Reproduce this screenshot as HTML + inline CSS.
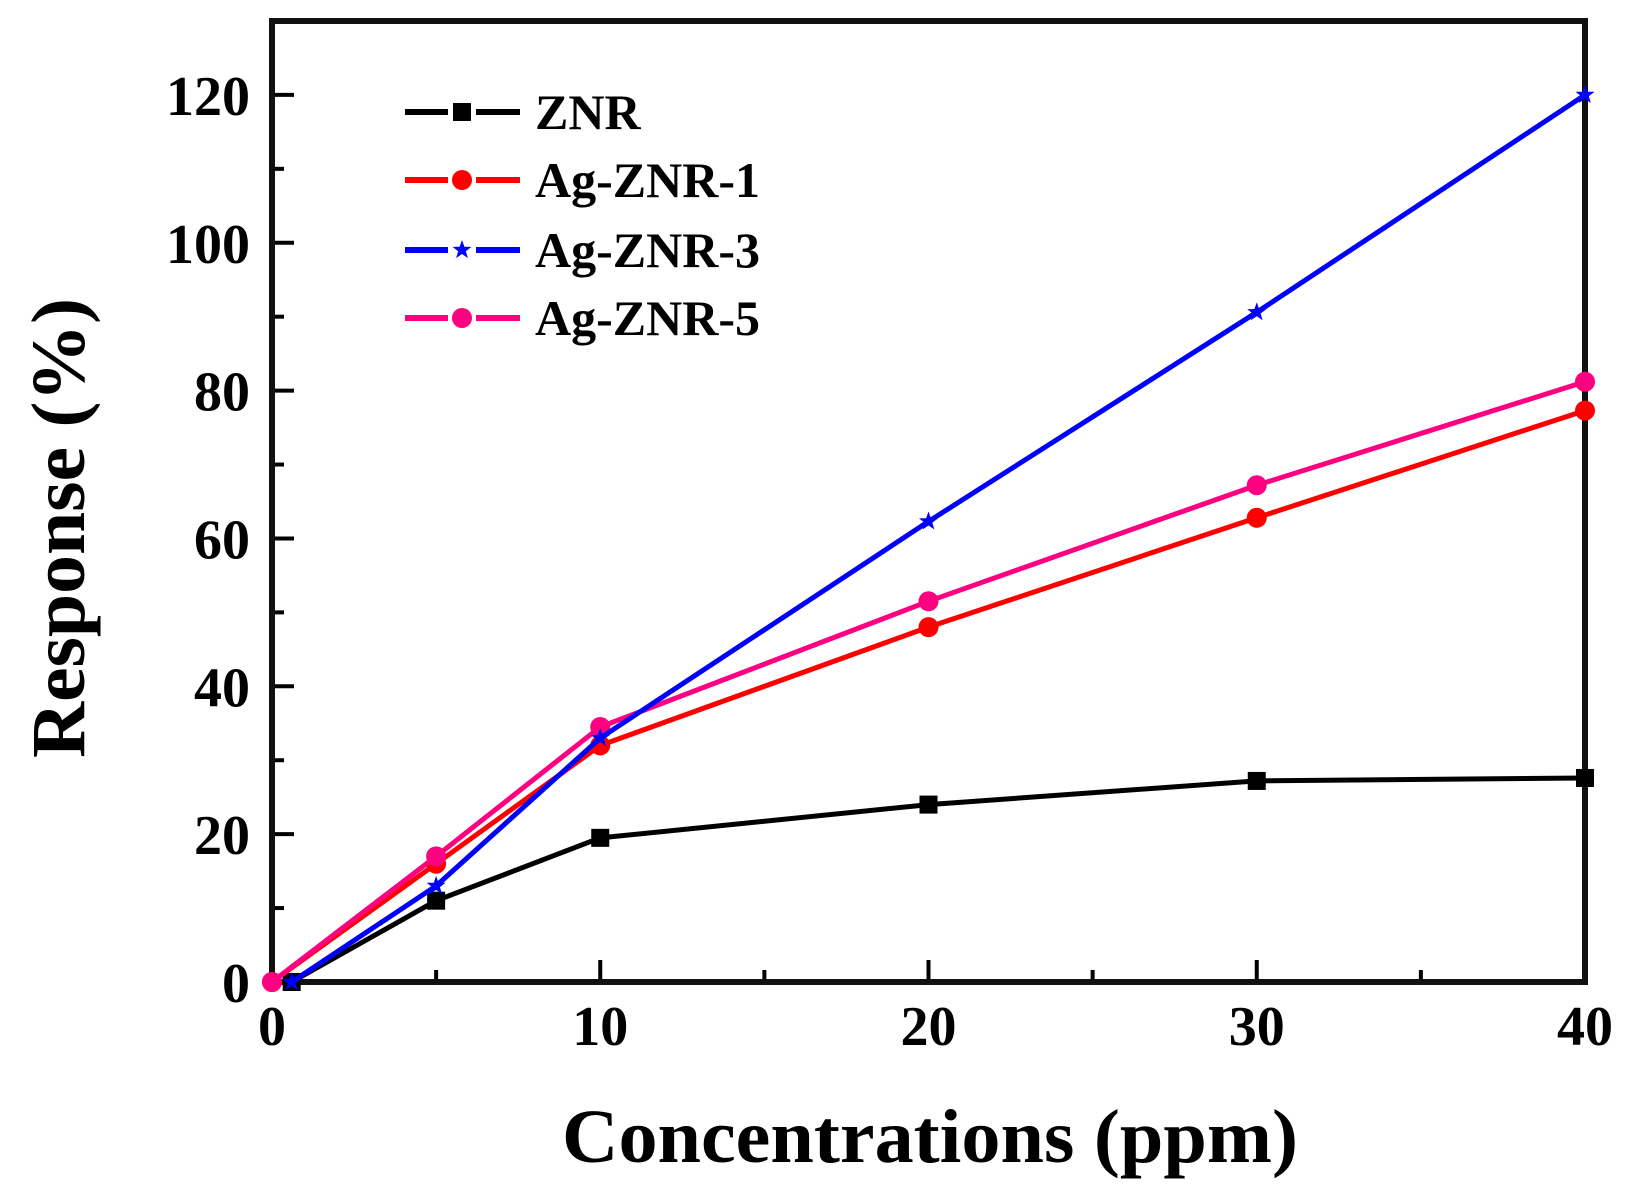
<!DOCTYPE html>
<html><head><meta charset="utf-8"><style>html,body{margin:0;padding:0;background:#fff}svg{display:block}</style></head>
<body>
<svg id="chart" width="1629" height="1195" viewBox="0 0 1629 1195" xmlns="http://www.w3.org/2000/svg" font-family="Liberation Serif, serif" font-weight="bold"></svg>
<script>
const xTicks = [0, 10, 20, 30, 40];
const yTicks = [0, 20, 40, 60, 80, 100, 120];
const seriesNames = ["ZNR", "Ag-ZNR-1", "Ag-ZNR-3", "Ag-ZNR-5"];
const seriesColors = ["#000000", "#ff0000", "#0000ff", "#ff0080"];
const znrX = [0.6, 5, 10, 20, 30, 40];
const znrY = [0, 11, 19.5, 24, 27.2, 27.6];
const ag1X = [0, 5, 10, 20, 30, 40];
const ag1Y = [0, 16, 32, 48, 62.8, 77.3];
const ag3X = [0.6, 5, 10, 20, 30, 40];
const ag3Y = [0, 13, 33, 62.3, 90.6, 120];
const ag5X = [0, 5, 10, 20, 30, 40];
const ag5Y = [0, 17, 34.5, 51.5, 67.2, 81.2];

const svg = document.getElementById('chart');
const NS = 'http://www.w3.org/2000/svg';
const L = 272, R = 1585, T = 21, B = 982;
const xMin = 0, xMax = 40, yMin = 0, yMax = 130;
const sx = v => L + (v - xMin) / (xMax - xMin) * (R - L);
const sy = v => B - (v - yMin) / (yMax - yMin) * (B - T);
function mk(tag, attrs, parent) {
  const e = document.createElementNS(NS, tag);
  for (const k in attrs) e.setAttribute(k, attrs[k]);
  (parent || svg).appendChild(e);
  return e;
}
const tg = mk('g', {});


for (let v = 0; v <= 40; v += 5) {
  const major = v % 10 === 0;
  mk('line', {x1: sx(v), x2: sx(v), y1: B, y2: B - (major ? 22 : 12), stroke: '#000', 'stroke-width': 4}, tg);
}
for (let v = 0; v <= 120; v += 10) {
  const major = v % 20 === 0;
  mk('line', {x1: L, x2: L + (major ? 22 : 12), y1: sy(v), y2: sy(v), stroke: '#000', 'stroke-width': 4}, tg);
}
xTicks.forEach(v => {
  const t = mk('text', {x: sx(v), y: 1045, 'text-anchor': 'middle', 'font-size': 56});
  
  
  t.textContent = v;
});
yTicks.forEach(v => {
  const t = mk('text', {x: 250, y: sy(v) + 20, 'text-anchor': 'end', 'font-size': 56});
  
  
  t.textContent = v;
});
const fr = mk('rect', {x: L, y: T, width: R - L, height: B - T, fill: 'none', stroke: '#111', 'stroke-width': 6});



function marker(kind, x, y, color, parent) {
  if (kind === 0) return mk('rect', {x: x - 9, y: y - 9, width: 18, height: 18, fill: color}, parent);
  if (kind === 1 || kind === 3) return mk('circle', {cx: x, cy: y, r: 10, fill: color}, parent);
  const p = [];
  for (let i = 0; i < 10; i++) {
    const a = -Math.PI / 2 + i * Math.PI / 5, r = i % 2 ? 4 : 10;
    p.push((x + r * Math.cos(a)).toFixed(1) + ',' + (y + r * Math.sin(a)).toFixed(1));
  }
  return mk('polygon', {points: p.join(' '), fill: color}, parent);
}
const allX = [znrX, ag1X, ag3X, ag5X], allY = [znrY, ag1Y, ag3Y, ag5Y];
const seriesOrder = [0, 1, 3, 2];
seriesOrder.forEach(i => {
  const g = mk('g', {});
  
  
  const pts = allX[i].map((x, j) => sx(x) + ',' + sy(allY[i][j])).join(' ');
  mk('polyline', {points: pts, fill: 'none', stroke: seriesColors[i], 'stroke-width': 5}, g);
  allX[i].forEach((x, j) => {
    const m = marker(i, sx(x), sy(allY[i][j]), seriesColors[i], g);
    
    
  });
});
const legY = [112, 180, 250, 318];
seriesNames.forEach((n, i) => {
  const g = mk('g', {});
  
  
  mk('line', {x1: 405, x2: 448, y1: legY[i], y2: legY[i], stroke: seriesColors[i], 'stroke-width': 6}, g);
  mk('line', {x1: 476, x2: 520, y1: legY[i], y2: legY[i], stroke: seriesColors[i], 'stroke-width': 6}, g);
  marker(i, 462, legY[i], seriesColors[i], g);
  const t = mk('text', {x: 535, y: legY[i] + 17, 'font-size': 50}, g);
  t.textContent = n;
});
const xt = mk('text', {x: 930, y: 1162, 'text-anchor': 'middle', 'font-size': 76, textLength: 736, lengthAdjust: 'spacingAndGlyphs'});


xt.textContent = 'Concentrations (ppm)';
const yt = mk('text', {x: 0, y: 0, 'text-anchor': 'middle', 'font-size': 76, textLength: 460, lengthAdjust: 'spacingAndGlyphs', transform: 'translate(84,528) rotate(-90)'});


yt.textContent = 'Response (%)';
</script>
</body></html>
